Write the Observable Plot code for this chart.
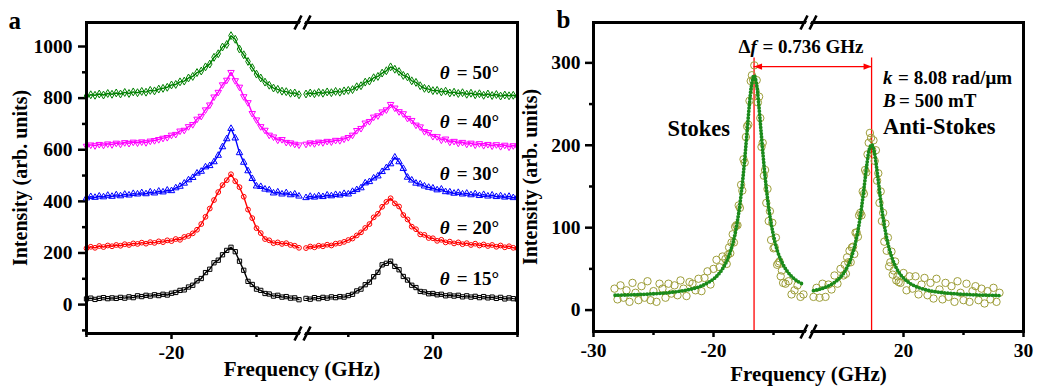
<!DOCTYPE html>
<html><head><meta charset="utf-8">
<script src="https://cdn.jsdelivr.net/npm/d3@7"></script>
<script src="https://cdn.jsdelivr.net/npm/@observablehq/plot@0.6"></script>
<style>
html,body{margin:0;padding:0;background:#fff;}
#wrap{display:flex;flex-direction:row;width:1038px;height:390px;}
#wrap svg{display:block;}
</style></head><body><div id="wrap"></div>
<script>
// ---------- Panel a data ----------
const freqA_L = [-25,-24.75,-24.5,-24.25,-24,-23.75,-23.5,-23.25,-23,-22.75,-22.5,-22.25,-22,-21.75,-21.5,-21.25,-21,-20.75,-20.5,-20.25,-20,-19.75,-19.5,-19.25,-19,-18.75,-18.5,-18.25,-18,-17.75,-17.5,-17.25,-17,-16.75,-16.5,-16.25,-16,-15.75,-15.5,-15.25,-15,-14.75,-14.5,-14.25,-14,-13.75,-13.5,-13.25,-13,-12.75,-12.5];
const freqA_R = [12.5,12.75,13,13.25,13.5,13.75,14,14.25,14.5,14.75,15,15.25,15.5,15.75,16,16.25,16.5,16.75,17,17.25,17.5,17.75,18,18.25,18.5,18.75,19,19.25,19.5,19.75,20,20.25,20.5,20.75,21,21.25,21.5,21.75,22,22.25,22.5,22.75,23,23.25,23.5,23.75,24,24.25,24.5,24.75,25];
const angles = ["15°","20°","30°","40°","50°"];
const colorsA = ["#000000","#ff0000","#0000ff","#ff00ff","#008000"];
const i15_L = [22,25,20,24,27,23,26,24,28,25,30,27,34,31,36,33,38,35,40,37,44,47,55,57,68,75,92,101,124,137,162,172,193,210,222,205,168,133,90,78,60,55,43,41,33,36,29,31,25,26,19];
const i15_R = [24,21,27,23,28,25,30,27,31,29,35,40,53,60,77,87,108,125,154,160,168,148,135,109,95,75,66,51,49,42,43,38,40,34,37,33,36,30,34,29,32,27,31,26,29,24,28,22,26,23,21];
const i20_L = [218,224,220,227,223,229,226,231,228,234,231,237,235,240,236,242,239,245,242,249,246,254,251,262,266,276,290,312,340,372,405,436,463,482,505,478,455,418,368,335,296,277,254,249,238,241,235,238,231,228,220];
const i20_R = [219,225,222,228,226,232,229,236,238,243,250,256,268,280,297,312,338,352,379,398,412,392,380,347,330,302,292,272,270,258,257,247,251,241,244,237,241,234,238,231,236,229,233,227,231,224,229,222,226,220,218];
const i30_L = [413,418,415,420,417,423,419,425,421,427,424,430,428,433,429,436,432,439,436,443,441,452,458,470,483,492,509,516,533,538,553,578,611,642,682,645,588,551,518,488,459,457,447,444,432,436,428,433,425,428,420];
const i30_R = [414,419,416,421,418,424,421,426,424,430,428,438,445,452,471,476,490,498,515,530,545,571,553,527,493,482,470,467,459,454,451,444,447,437,436,431,434,428,431,425,429,422,426,420,424,418,421,416,419,414,417];
const i40_L = [614,619,616,621,618,623,620,626,622,628,625,630,627,631,628,634,636,640,645,648,657,660,673,676,690,698,719,730,755,774,805,823,852,870,900,868,843,806,783,741,716,690,676,657,650,638,640,629,627,622,619];
const i40_R = [622,627,624,630,628,633,631,637,636,642,648,657,675,683,704,710,727,732,747,755,776,762,748,740,722,714,696,689,671,667,652,651,638,642,630,633,626,629,622,626,619,624,617,621,615,620,613,618,611,616,612];
const i50_L = [808,813,811,816,812,818,815,820,816,822,818,824,821,826,823,830,828,835,838,842,851,853,863,866,878,884,899,905,921,932,958,972,998,1008,1042,1028,990,968,942,918,893,878,862,850,839,834,827,825,819,820,813];
const i50_R = [816,820,817,822,819,824,821,826,823,828,830,833,844,848,862,866,879,884,897,906,921,912,903,888,882,867,861,848,838,835,829,830,824,827,820,823,818,821,815,819,813,817,811,816,810,814,808,812,809,811,807];
const labelY_A = [74, 275, 481, 686, 876];
const labelX_A = 20.41;
const yMajorA = [0,200,400,600,800,1000];
const yMinorA = [-100,100,300,500,700,900];
const xMajorA = [-20,20];
const xMinorA = [-25,-15,15,25];

// ---------- Panel b data ----------
const freqB_L = [-28.25,-28,-27.75,-27.5,-27.25,-27,-26.75,-26.5,-26.25,-26,-25.75,-25.5,-25.25,-25,-24.75,-24.5,-24.25,-24,-23.75,-23.5,-23.25,-23,-22.75,-22.5,-22.25,-22,-21.75,-21.5,-21.25,-21,-20.75,-20.5,-20.25,-20,-19.75,-19.5,-19.25,
 -19.0,-18.9,-18.8,-18.7,-18.6,-18.5,-18.4,-18.3,-18.2,-18.1,-18.0,-17.9,-17.8,-17.7,-17.6,-17.5,-17.4,-17.3,-17.2,-17.1,-17.0,-16.9,-16.8,-16.7,-16.6,-16.5,-16.4,-16.3,-16.2,-16.1,-16.0,-15.9,-15.8,-15.7,-15.6,-15.5,-15.4,-15.3,-15.2,-15.1,-15.0,-14.9,-14.8,-14.7,-14.6,-14.5,-14.4,-14.3,-14.2,
 -14.0,-13.75,-13.5,-13.25,-13.0,-12.75,-12.5];
const scatB_L = [26,13,30,15,24,10,33,21,12,29,15,35,12,23,10,32,26,15,32,20,30,18,36,26,17,34,32,24,38,23,39,47,31,50,61,52,65,
 62,56,67,76,69,82,92,82,101,103,103,127,124,152,145,183,179,210,223,225,254,278,285,279,297,266,279,252,259,233,198,203,163,170,130,147,108,120,85,106,75,76,88,55,57,59,41,48,33,
 32,35,19,24,30,16,19];
const freqB_R = [12.5,12.75,13,13.25,13.5,13.75,14,14.25,14.5,14.75,15,
 15.1,15.2,15.3,15.4,15.5,15.6,15.7,15.8,15.9,16.0,16.1,16.2,16.3,16.4,16.5,16.6,16.7,16.8,16.9,17.0,17.1,17.2,17.3,17.4,17.5,17.6,17.7,17.8,17.9,18.0,18.1,18.2,18.3,18.4,18.5,18.6,18.7,18.8,18.9,19.0,19.1,19.2,19.3,19.4,19.5,19.6,
 19.75,20,20.25,20.5,20.75,21,21.25,21.5,21.75,22,22.25,22.5,22.75,23,23.25,23.5,23.75,24,24.25,24.5,24.75,25,25.25,25.5,25.75,26,26.25,26.5,26.75,27,27.25,27.5,27.75,28];
const scatB_R = [16,27,15,32,16,31,25,42,32,50,42,
 55,44,64,58,72,58,76,77,68,94,94,89,115,118,115,144,141,170,167,189,203,215,209,194,206,181,194,157,166,130,144,108,118,83,105,72,88,53,58,71,43,48,59,36,41,34,
 33,45,24,41,26,41,19,31,39,18,33,14,38,25,13,33,16,29,10,35,21,12,32,10,23,29,12,26,8,23,13,27,10,21];
const fitFreq_L = [-28.2,-27,-26,-25,-24,-23,-22,-21,-20,-19.5,-19,-18.5,-18.2,-17.9,-17.6,-17.4,-17.2,-17.0,-16.85,-16.62,-16.4,-16.25,-16.05,-15.85,-15.65,-15.35,-15.05,-14.7,-14.3,-13.9,-13.5,-13.0,-12.5];
const fitVal_L = [18.0,18.5,19.0,19.8,20.8,22.5,25.0,29.3,37.7,45.0,56.4,75.4,92.9,118,153,183,217,251,271,285,273,253,219,185,155,119,94,73,58,48,41,35,31];
const fitFreq_R = [12.5,13,13.5,14,14.5,15,15.5,15.9,16.2,16.5,16.75,16.95,17.15,17.34,17.55,17.75,17.95,18.2,18.5,18.8,19.2,19.7,20.3,21,22,23,24,25,26,27,28.1];
const fitVal_R = [23.6,25.3,27.7,31.2,36.4,44.5,58,76,96,124,153,177,195,201,193,174,151,122,95,75,57.5,44,35,28.8,24.1,21.6,20.1,19.1,18.4,18.0,17.6];
const peakFreqs = [-16.62, 17.34];
const arrowLevel = 295.5;
const peakLineTop = 306;
const yMajorB = [0,100,200,300];
const yMinorB = [50,150,250];
const xMajorB = [-30,-20,20,30];
const xMinorB = [-25,-15,15,25];

// ---------- helpers ----------
const FONT = "'Liberation Serif','Times New Roman',serif";
const triangleDown = {draw(ctx, size){const y=-Math.sqrt(size/(Math.sqrt(3)*3));ctx.moveTo(0,-y*2);ctx.lineTo(-Math.sqrt(3)*y,y);ctx.lineTo(Math.sqrt(3)*y,y);ctx.closePath();}};
const headLeft = {draw(ctx){ctx.moveTo(0,0);ctx.lineTo(8,-3.2);ctx.lineTo(8,3.2);ctx.closePath();}};
const headRight = {draw(ctx){ctx.moveTo(0,0);ctx.lineTo(-8,-3.2);ctx.lineTo(-8,3.2);ctx.closePath();}};
const slashes = {draw(ctx){ctx.moveTo(-8,7);ctx.lineTo(-1,-7);ctx.moveTo(1,7);ctx.lineTo(8,-7);}};
const slashGap = {draw(ctx){ctx.moveTo(-4.5,7);ctx.lineTo(2.5,-7);ctx.lineTo(4.5,-7);ctx.lineTo(-2.5,7);ctx.closePath();}};
const symbolsA = ["square","circle","triangle",triangleDown,"diamond"];

function breakMarks(domainY) {
  const pts = [{x:0,y:domainY[0]},{x:0,y:domainY[1]}];
  return [
    Plot.dot(pts, {x:"x", y:"y", symbol: slashGap, r: 5, fill: "white", stroke: "white", strokeWidth: 2}),
    Plot.dot(pts, {x:"x", y:"y", symbol: slashes, r: 5, fill: "none", stroke: "black", strokeWidth: 2.6})
  ];
}
function axes(yMajor, yMinor, xMajor, xMinor, padY) {
  const fmt = d => String(d);
  return [
    Plot.axisY({ticks: yMajor, tickSize: 8, tickPadding: padY, strokeWidth: 2.5, tickFormat: fmt, fontSize: 19.5, fontWeight: "bold", label: null}),
    Plot.axisY({ticks: yMinor, tickSize: 4, strokeWidth: 2.5, tickFormat: () => "", label: null}),
    Plot.axisX({ticks: xMajor, tickSize: 6, tickPadding: 6, strokeWidth: 2.5, tickFormat: fmt, fontSize: 19.5, fontWeight: "bold", label: null}),
    Plot.axisX({ticks: xMinor, tickSize: 4, strokeWidth: 2.5, tickFormat: () => "", label: null})
  ];
}

// ---------- Panel a ----------
const rowsA = [];
angles.forEach((a, k) => {
  const L = [i15_L,i20_L,i30_L,i40_L,i50_L][k], R = [i15_R,i20_R,i30_R,i40_R,i50_R][k];
  freqA_L.forEach((f,i) => rowsA.push({angle:a, seg:a+"L", f, v:L[i]}));
  freqA_R.forEach((f,i) => rowsA.push({angle:a, seg:a+"R", f, v:R[i]}));
});
const yDomainA = [-112, 1093];
const marksA = [];
angles.forEach((a, k) => {
  const d = rowsA.filter(r => r.angle === a);
  marksA.push(Plot.line(d, {x:"f", y:"v", z:"seg", stroke: colorsA[k], strokeWidth: 1.4}));
  marksA.push(Plot.dot(d, {x:"f", y:"v", symbol: symbolsA[k], r: 2.4, stroke: colorsA[k], fill: "none", strokeWidth: 1}));
});
const labelRowsA = angles.map((a,k) => ({a, y: labelY_A[k]}));
const plotA = Plot.plot({
  width: 519, height: 390, marginLeft: 86, marginRight: 2, marginTop: 22, marginBottom: 57,
  style: {fontFamily: FONT, fontSize: "19px", fontWeight: "bold", color: "#000", background: "#fff"},
  x: {type: "linear", domain: [-25,-12.5,12.5,25], range: [86,298.5,305.5,517]},
  y: {type: "linear", domain: yDomainA},
  marks: [
    ...axes(yMajorA, yMinorA, xMajorA, xMinorA, 6),
    ...marksA,
    Plot.text(labelRowsA, {x: () => labelX_A, y: "y", text: () => "θ", fontStyle: "italic", fontWeight: "bold", fontSize: 19, textAnchor: "start", lineAnchor: "bottom"}),
    Plot.text(labelRowsA, {x: () => labelX_A, y: "y", text: d => "= " + d.a, dx: 17, fontWeight: "bold", fontSize: 19, textAnchor: "start", lineAnchor: "bottom"}),
    Plot.frame({strokeWidth: 3}),
    ...breakMarks(yDomainA),
    Plot.text(["a"], {frameAnchor: "top-left", dx: -78, dy: 6, fontSize: 25, fontWeight: "bold", textAnchor: "start", lineAnchor: "bottom"}),
    Plot.text(["Frequency (GHz)"], {frameAnchor: "bottom", dy: 36, fontSize: 21, fontWeight: "bold", textAnchor: "middle", lineAnchor: "middle"}),
    Plot.text(["Intensity (arb. units)"], {frameAnchor: "left", dx: -66, rotate: -90, fontSize: 20, fontWeight: "bold", textAnchor: "middle", lineAnchor: "middle"})
  ]
});

// ---------- Panel b ----------
const scatRows = freqB_L.map((f,i) => ({f, v: scatB_L[i]})).concat(freqB_R.map((f,i) => ({f, v: scatB_R[i]})));
const fitRows = fitFreq_L.map((f,i) => ({f, v: fitVal_L[i], seg: "S"})).concat(fitFreq_R.map((f,i) => ({f, v: fitVal_R[i], seg: "AS"})));
const yDomainB = [-26, 349];
const plotB = Plot.plot({
  width: 519, height: 390, marginLeft: 74, marginRight: 15, marginTop: 22, marginBottom: 59,
  style: {fontFamily: FONT, fontSize: "19px", fontWeight: "bold", color: "#000", background: "#fff"},
  x: {type: "linear", domain: [-30,-12.5,12.5,30], range: [74,284,294,504]},
  y: {type: "linear", domain: yDomainB},
  marks: [
    ...axes(yMajorB, yMinorB, xMajorB, xMinorB, 5),
    Plot.ruleX(peakFreqs, {y1: peakLineTop, y2: yDomainB[0], stroke: "#ff0000", strokeWidth: 1.3}),
    Plot.dot(scatRows, {x:"f", y:"v", r: 3.7, stroke: "#9e9e3a", fill: "none", strokeWidth: 1}),
    Plot.line(fitRows, {x:"f", y:"v", z:"seg", stroke: "#1a8a1a", strokeWidth: 3.8, strokeDasharray: "0 3.2", strokeLinecap: "round", curve: "catmull-rom"}),
    Plot.ruleY([arrowLevel], {x1: peakFreqs[0], x2: peakFreqs[1], stroke: "#ff0000", strokeWidth: 1.3}),
    Plot.dot([{f: peakFreqs[0], v: arrowLevel}], {x:"f", y:"v", symbol: headLeft, r: 4, fill: "#ff0000", stroke: "none"}),
    Plot.dot([{f: peakFreqs[1], v: arrowLevel}], {x:"f", y:"v", symbol: headRight, r: 4, fill: "#ff0000", stroke: "none"}),
    Plot.text([{f:-16.92, v:312.5}], {x:"f", y:"v", text: () => "Δ", fontSize: 19, textAnchor: "end", lineAnchor: "bottom"}),
    Plot.text([{f:-16.92, v:312.5}], {x:"f", y:"v", text: () => "f", fontSize: 19, fontStyle: "italic", textAnchor: "start", lineAnchor: "bottom"}),
    Plot.text([{f:-16.92, v:312.5}], {x:"f", y:"v", text: () => "= 0.736 GHz", dx: 12, fontSize: 19, textAnchor: "start", lineAnchor: "bottom"}),
    Plot.text([{f:18.3, v:274.9}], {x:"f", y:"v", text: () => "k", fontSize: 19, fontStyle: "italic", textAnchor: "start", lineAnchor: "bottom"}),
    Plot.text([{f:18.3, v:274.9}], {x:"f", y:"v", text: () => "= 8.08 rad/μm", dx: 15, fontSize: 19, textAnchor: "start", lineAnchor: "bottom"}),
    Plot.text([{f:18.3, v:246.9}], {x:"f", y:"v", text: () => "B", fontSize: 19, fontStyle: "italic", textAnchor: "start", lineAnchor: "bottom"}),
    Plot.text([{f:18.3, v:246.9}], {x:"f", y:"v", text: () => "= 500 mT", dx: 16, fontSize: 19, textAnchor: "start", lineAnchor: "bottom"}),
    Plot.text([{f:18.3, v:214.1}], {x:"f", y:"v", text: () => "Anti-Stokes", fontSize: 22.5, textAnchor: "start", lineAnchor: "bottom"}),
    Plot.text([{f:-23.83, v:211.7}], {x:"f", y:"v", text: () => "Stokes", fontSize: 22.5, textAnchor: "start", lineAnchor: "bottom"}),
    Plot.frame({strokeWidth: 3}),
    ...breakMarks(yDomainB),
    Plot.text(["b"], {frameAnchor: "top-left", dx: -37, dy: 5, fontSize: 25, fontWeight: "bold", textAnchor: "start", lineAnchor: "bottom"}),
    Plot.text(["Frequency (GHz)"], {frameAnchor: "bottom", dy: 43, fontSize: 21, fontWeight: "bold", textAnchor: "middle", lineAnchor: "middle"}),
    Plot.text(["Intensity (arb. units)"], {frameAnchor: "left", dx: -63, rotate: -90, fontSize: 20, fontWeight: "bold", textAnchor: "middle", lineAnchor: "middle"})
  ]
});
const wrap = document.getElementById("wrap");
wrap.appendChild(plotA);
wrap.appendChild(plotB);
</script>
</body></html>
